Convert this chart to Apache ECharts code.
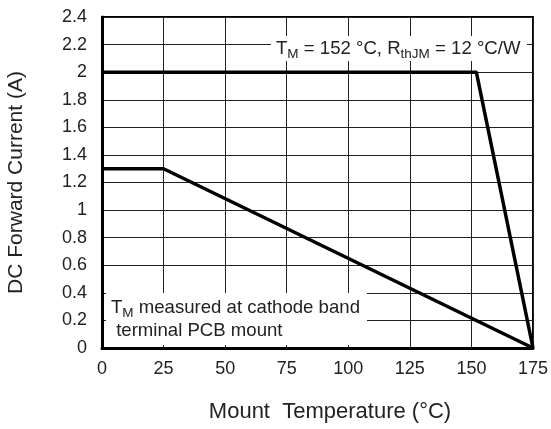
<!DOCTYPE html>
<html>
<head>
<meta charset="utf-8">
<script src="https://cdn.jsdelivr.net/npm/echarts@6/dist/echarts.min.js"></script>
<style>html,body{margin:0;padding:0;background:#fff}#c{width:551px;height:429px}</style>
</head>
<body>
<div id="c"></div>
<script>
const xTicks = [0, 25, 50, 75, 100, 125, 150, 175];
const yTicks = [0, 0.2, 0.4, 0.6, 0.8, 1, 1.2, 1.4, 1.6, 1.8, 2, 2.2, 2.4];
const curveA = [[0, 2], [152, 2], [175, 0]];
const curveB = [[0, 1.3], [25, 1.3], [175, 0]];
const xName = 'Mount  Temperature (°C)';
const yName = 'DC Forward Current (A)';

const FONT = 'Liberation Sans, Arial, Helvetica, sans-serif';
const TXT = '#222';
const chart = echarts.init(document.getElementById('c'));
const lineStyle = { color: '#000', width: 3.5 };
chart.setOption({
  animation: false,
  grid: { left: 102, right: 18, top: 17, bottom: 81, outerBoundsMode: 'none', containLabel: false,
    show: true, borderColor: '#000', borderWidth: 2, backgroundColor: 'transparent' },
  xAxis: {
    type: 'value', min: xTicks[0], max: xTicks[xTicks.length - 1], interval: 25,
    name: xName, nameLocation: 'middle', nameGap: 53,
    nameTextStyle: { fontFamily: FONT, fontSize: 22, color: TXT, padding: [0, 0, 0, 25] },
    axisLine: { show: true, onZero: false, lineStyle: { color: '#000', width: 3 } },
    axisTick: { show: false },
    axisLabel: { fontFamily: FONT, fontSize: 18, color: TXT, margin: 12 },
    splitLine: { show: true, lineStyle: { color: '#222', width: 1 } }
  },
  yAxis: {
    type: 'value', min: yTicks[0], max: yTicks[yTicks.length - 1], interval: 0.2,
    name: yName, nameLocation: 'middle', nameGap: 75, nameRotate: 90,
    nameTextStyle: { fontFamily: FONT, fontSize: 21, color: TXT },
    axisLine: { show: true, onZero: false, lineStyle: { color: '#000', width: 3 } },
    axisTick: { show: false },
    axisLabel: { fontFamily: FONT, fontSize: 18, color: TXT, margin: 15,
      formatter: v => String(Math.round(v * 10) / 10) },
    splitLine: { show: true, lineStyle: { color: '#222', width: 1 } }
  },
  series: [
    { type: 'line', data: curveA, symbol: 'none', lineStyle, z: 5 },
    { type: 'line', data: curveB, symbol: 'none', lineStyle, z: 5 }
  ],
  graphic: [
    { type: 'rect', z: 3, shape: { x: 271, y: 36, width: 256, height: 25 }, style: { fill: '#fff' } },
    { type: 'text', z: 4, left: 276, top: 39,
      style: {
        text: 'T{s|M} = 152 °C, R{s|thJM} = 12 °C/W',
        fontFamily: FONT, fontSize: 18.6, fill: TXT,
        rich: { s: { fontFamily: FONT, fontSize: 13.5, fill: TXT, padding: [11, 0, 0, 0] } }
      } },
    { type: 'rect', z: 3, shape: { x: 106, y: 293, width: 261, height: 52 }, style: { fill: '#fff' } },
    { type: 'text', z: 4, left: 111, top: 296,
      style: {
        text: 'T{s|M} measured at cathode band\n {n|terminal PCB mount}',
        fontFamily: FONT, fontSize: 18.6, fill: TXT, lineHeight: 23,
        rich: { s: { fontFamily: FONT, fontSize: 13.5, fill: TXT, padding: [11, 0, 0, 0] },
                n: { fontFamily: FONT, fontSize: 18.6, fill: TXT, lineHeight: 23 } }
      } }
  ]
});
</script>
</body>
</html>
